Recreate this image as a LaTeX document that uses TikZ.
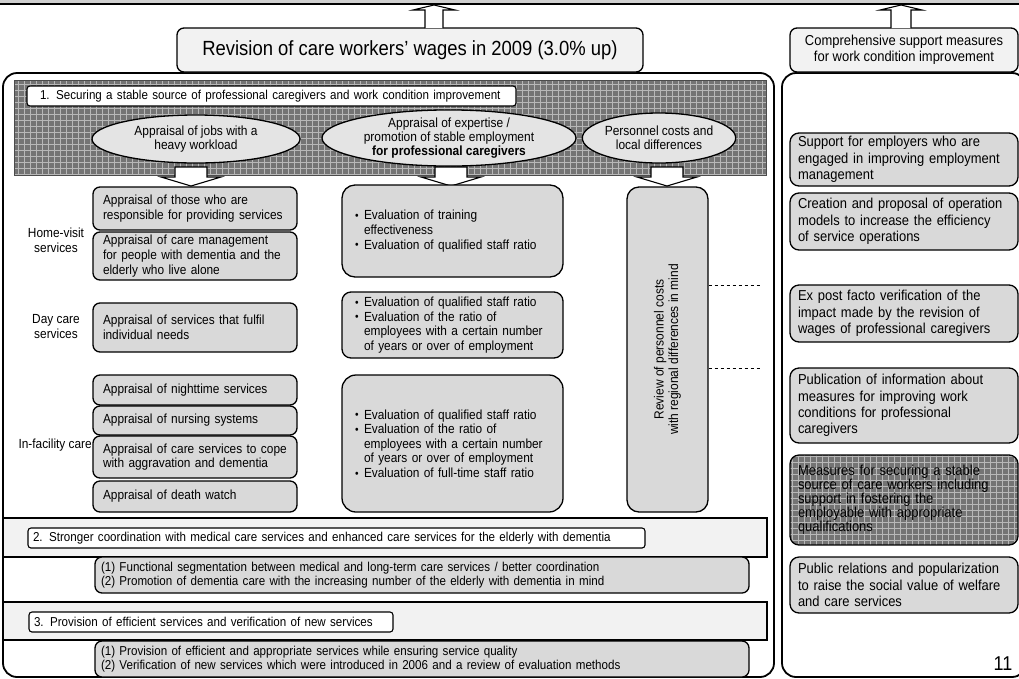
\documentclass[tikz,border=0pt]{standalone}
\usepackage{fontspec}
\setmainfont{Liberation Sans}[FakeStretch=0.9]
\usetikzlibrary{shapes.geometric}

\definecolor{boxgray}{HTML}{D9D9D9}
\definecolor{palegray}{HTML}{F2F2F2}
\definecolor{ovalgray}{HTML}{E4E4E4}
\definecolor{meshbg}{HTML}{747474}
\definecolor{meshline}{HTML}{B8B8B8}
\definecolor{stripgray}{HTML}{CFCFCF}

\newcommand\fsz[2]{\fontsize{#1}{#2}\selectfont}
\newcommand\dotitem{\makebox[9pt][l]{\raisebox{0.4pt}{\scalebox{0.85}{\textbullet}}}}
\newcommand\itemcont{\hspace*{9pt}}

\tikzset{
  frame/.style={draw, line width=1.8pt, rounded corners=14pt, fill=white},
  graybox/.style={draw, line width=1.3pt, rounded corners=7pt, fill=boxgray,
    align=left, inner ysep=0pt, font=\fsz{13.2}{14.6}},
  leftbox/.style={graybox, minimum width=204pt, text width=184pt, inner xsep=10pt},
  midbox/.style={graybox, minimum width=221pt, text width=195pt, inner xsep=13pt},
  sidebox/.style={graybox, minimum width=228pt, text width=212pt, inner xsep=8pt,
    font=\fsz{14.4}{16.4}, rounded corners=9pt},
  headbox/.style={draw, line width=1.3pt, rounded corners=7pt, fill=palegray,
    align=center, inner sep=0pt},
  secttitle/.style={draw, line width=1.1pt, rounded corners=3pt, fill=white,
    align=left, inner ysep=0pt, minimum height=20pt, font=\fsz{12.9}{13.5}},
  sectband/.style={draw, line width=1.3pt, fill=palegray},
  subbox/.style={graybox, minimum width=654pt, text width=642pt, inner xsep=6pt,
    minimum height=36pt, font=\fsz{12.9}{13.4}},
  oval/.style={ellipse, draw, line width=1.3pt, fill=ovalgray, inner sep=0pt,
    align=center, font=\fsz{13.3}{13.6}},
  sidelabel/.style={align=center, inner sep=0pt, font=\fsz{13.2}{15}},
  blockarrow/.style={draw, line width=1.1pt, fill=white, line join=miter},
  linkdash/.style={dashed, line width=1pt},
  hollowdown/.pic={
    \draw[blockarrow] (-16,0) -- (16,0) -- (16,10) -- (30,10) -- (0,19)
      -- (-30,10) -- (-16,10) -- cycle;
  },
}

\begin{document}
\begin{tikzpicture}[x=1pt,y=-1pt]
\useasboundingbox (0,0) rectangle (1019,678);
\clip (0,0) rectangle (1019,678);

% strip along the top edge
\fill[stripgray] (0,0) rectangle (1019,4);
\draw[line width=2pt] (0,4.3) -- (1019,4.3);

% the two large frames
\draw[frame] (3,73) rectangle (774,677);
\draw[frame] (782,73) rectangle (1026,677);

% headings above the frames
\node[headbox, minimum width=466pt, minimum height=44pt, font=\fsz{20.5}{22}]
  (wages) at (410,50) {Revision of care workers’ wages in 2009 (3.0\% up)};
\node[headbox, minimum width=228pt, minimum height=44pt, font=\fsz{14.4}{16.4}]
  (support) at (904,50) {Comprehensive support measures\\for work condition improvement};

% hollow arrows pointing up to the strip
\draw[blockarrow] (425,28) -- (425,10) -- (413,10) -- (434,5) -- (455,10)
  -- (443,10) -- (443,28);
\draw[blockarrow] (891,28) -- (891,10) -- (880,10) -- (901,5) -- (922,10)
  -- (911,10) -- (911,28);

% section 1: meshed band
\fill[meshbg] (14,80) rectangle (766,175);
\draw[meshline, line width=0.6pt, step=6pt] (14,80) grid (766,175);
\draw[line width=0.8pt, black!70] (14,80) rectangle (766,175);

\node[secttitle, text width=463pt, inner xsep=13pt] (sec1) at (271.5,96)
  {1. Securing a stable source of professional caregivers and work condition improvement};

\node[oval, minimum width=208pt, minimum height=48pt] (job) at (196,139)
  {Appraisal of jobs with a\\heavy workload};
\node[oval, minimum width=254pt, minimum height=52pt] (expert) at (449,138)
  {Appraisal of expertise /\\promotion of stable employment\\\textbf{for professional caregivers}};
\node[oval, minimum width=150pt, minimum height=50pt] (cost) at (659,138)
  {Personnel costs and\\local differences};

\pic at (191,167) {hollowdown};
\pic at (451,167) {hollowdown};
\pic at (667,167) {hollowdown};

% service categories
\node[sidelabel] (homevisit) at (56,240) {Home-visit\\services};
\node[sidelabel] (daycare) at (56,327) {Day care\\services};
\node[sidelabel, anchor=east] (infacility) at (92,445) {In-facility care};

% workload appraisal column
\node[leftbox, minimum height=43pt] (respons) at (195,208.5)
  {Appraisal of those who are\\responsible for providing services};
\node[leftbox, minimum height=48pt] (caremgmt) at (195,256)
  {Appraisal of care management\\for people with dementia and the\\elderly who live alone};
\node[leftbox, minimum height=49pt] (needs) at (195,327.5)
  {Appraisal of services that fulfil\\individual needs};
\node[leftbox, minimum height=30pt] (night) at (195,390)
  {Appraisal of nighttime services};
\node[leftbox, minimum height=29pt] (nursing) at (195,420.5)
  {Appraisal of nursing systems};
\node[leftbox, minimum height=42pt] (aggrav) at (195,457)
  {Appraisal of care services to cope\\with aggravation and dementia};
\node[leftbox, minimum height=31pt] (death) at (195,496.5)
  {Appraisal of death watch};

% expertise evaluation column
\node[midbox, minimum height=92pt, rounded corners=13pt] (training) at (452.5,231)
  {\dotitem Evaluation of training\\\itemcont effectiveness\\\dotitem Evaluation of qualified staff ratio};
\node[midbox, minimum height=66pt, rounded corners=9pt] (dayeval) at (452.5,325)
  {\dotitem Evaluation of qualified staff ratio\\\dotitem Evaluation of the ratio of\\\itemcont employees with a certain number\\\itemcont of years or over of employment};
\node[midbox, minimum height=137pt, rounded corners=14pt] (faceval) at (452.5,443.5)
  {\dotitem Evaluation of qualified staff ratio\\\dotitem Evaluation of the ratio of\\\itemcont employees with a certain number\\\itemcont of years or over of employment\\\dotitem Evaluation of full-time staff ratio};

% personnel cost column
\node[graybox, minimum width=81pt, minimum height=325pt, rounded corners=12pt]
  (review) at (667.5,349.5) {};
\node[rotate=90, align=center, inner sep=0pt, font=\fsz{13.3}{14.5}] (reviewtext)
  at (review.center) {Review of personnel costs\\with regional differences in mind};

\coordinate (dashA) at (760,285);
\coordinate (dashB) at (760,368);
\draw[linkdash] (review.east |- dashA) -- (dashA);
\draw[linkdash] (review.east |- dashB) -- (dashB);

% section 2
\draw[sectband] (3,518) rectangle (767,557);
\node[secttitle, text width=607pt, inner xsep=5pt] (sec2) at (336.5,538)
  {2. Stronger coordination with medical care services and enhanced care services for the elderly with dementia};
\node[subbox] (sub2) at (422,575)
  {(1) Functional segmentation between medical and long-term care services / better coordination\\(2) Promotion of dementia care with the increasing number of the elderly with dementia in mind};

% section 3
\draw[sectband] (3,602) rectangle (767,640);
\node[secttitle, text width=354pt, inner xsep=5pt] (sec3) at (211,622)
  {3. Provision of efficient services and verification of new services};
\node[subbox] (sub3) at (422,659)
  {(1) Provision of efficient and appropriate services while ensuring service quality\\(2) Verification of new services which were introduced in 2006 and a review of evaluation methods};

% support measures column
\node[sidebox, minimum height=53pt] (employers) at (904,159.5)
  {Support for employers who are\\engaged in improving employment\\management};
\node[sidebox, minimum height=57pt] (models) at (904,221.5)
  {Creation and proposal of operation\\models to increase the efficiency\\of service operations};
\node[sidebox, minimum height=57pt] (expost) at (904,313.5)
  {Ex post facto verification of the\\impact made by the revision of\\wages of professional caregivers};
\node[sidebox, minimum height=75pt] (publish) at (904,405.5)
  {Publication of information about\\measures for improving work\\conditions for professional\\caregivers};
\begin{scope}
  \clip[rounded corners=9pt] (790,455) rectangle (1018,545);
  \fill[meshbg] (790,455) rectangle (1018,545);
  \draw[meshline, line width=0.6pt, step=6pt] (790,455) grid (1018,545);
\end{scope}
\node[sidebox, fill=none, minimum height=90pt, font=\fsz{14.4}{14}] (stable) at (904,500)
  {Measures for securing a stable\\source of care workers including\\support in fostering the\\employable with appropriate\\qualifications};
\node[sidebox, minimum height=56pt] (publicity) at (904,585)
  {Public relations and popularization\\to raise the social value of welfare\\and care services};

\node[font=\fsz{20}{21}, inner sep=0pt] (pageno) at (1003,664) {11};
\end{tikzpicture}
\end{document}
